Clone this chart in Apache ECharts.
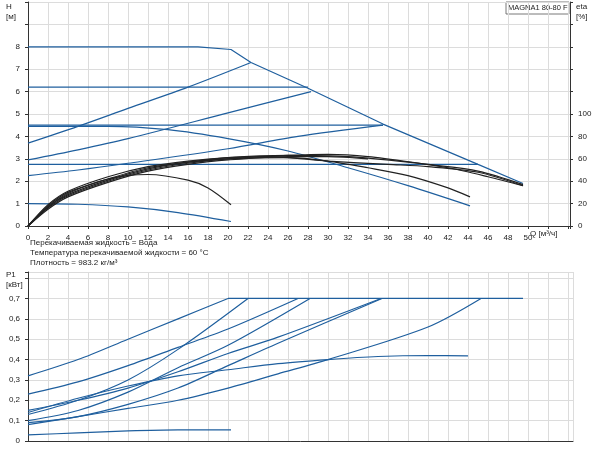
<!DOCTYPE html>
<html><head><meta charset="utf-8">
<script src="https://cdn.jsdelivr.net/npm/echarts@6/dist/echarts.min.js"></script>
<style>html,body{margin:0;padding:0;background:#fff}#c{width:600px;height:450px}</style>
</head><body><div id="c"></div>
<script>
// H curves (Q, H m)
const hMax = [[0,8.0],[10,8.0],[17,8.0],[20.3,7.88],[22.3,7.3],[28,6.15],[35.5,4.55],[45,2.75],[49.5,1.9]];
const hPP1 = [[0,3.7],[5,4.45],[10,5.25],[16,6.2],[22.3,7.3]];
const hPP2 = [[0,2.95],[5,3.4],[10,3.9],[20,5.05],[28.3,6.0]];
const hPP3 = [[0,2.25],[5,2.5],[10,2.8],[20,3.45],[27,4.0],[35.5,4.5]];
const hCP1 = [[0,6.2],[28,6.2]];
const hCP2 = [[0,4.5],[35.5,4.5]];
const hCP3 = [[0,2.75],[45,2.75]];
const hMid = [[0,4.45],[8,4.45],[14,4.3],[20,3.9],[26,3.35],[32,2.6],[38,1.8],[44.2,0.9]];
const hMin = [[0,1.0],[5,0.97],[10,0.85],[15,0.6],[20.3,0.2]];
// eta curves (Q, %)
const eta1 = [[0,0],[2,17],[4,29],[8,42],[12,46],[16,41],[18,34],[20.3,19]];
const eta2 = [[0,0],[2,18],[4,30],[8,42],[12,52],[16,57],[20,60],[26,61],[30,58],[34,52],[38,45],[42,34],[44.2,26]];
const eta3 = [[0,0],[2,17],[4,28],[8,41],[12,51],[16,57],[20,61],[26,63],[32,62],[38,57],[42,52],[46,44],[49.5,36]];
const eta4 = [[0,0],[2,16],[4,27],[8,40],[12,50],[16,56],[20,60],[26,63],[30,64],[34,62],[40,55],[45,49],[49.5,37]];
const eta5 = [[0,0],[2,19],[4,31],[8,44],[12,53],[16,58],[20,61],[24,62],[30,58],[36,55],[40,53],[45,48],[49.5,36]];
const eta6 = [[0,0],[2,15],[4,26],[8,39],[12,49],[16,55],[20,59],[26,62],[30,62],[34,60]];
// P1 curves (Q, kW)
const p1 = [[0,0.32],[5,0.4],[10,0.5],[15,0.6],[20,0.7]];
const p2 = [[0,0.13],[5,0.2],[10,0.3],[15,0.45],[22,0.7]];
const p3 = [[0,0.23],[5,0.29],[10,0.37],[15,0.46],[20,0.55],[27,0.7]];
const p4 = [[0,0.1],[5,0.15],[10,0.24],[15,0.36],[20,0.47],[28.2,0.7]];
const p5 = [[0,0.15],[5,0.2],[10,0.26],[15,0.34],[20,0.43],[25,0.51],[35.3,0.7]];
const p6 = [[0,0.09],[5,0.12],[10,0.18],[15,0.26],[20,0.37],[25,0.48],[35.4,0.7]];
const p7 = [[0,0.08],[5,0.12],[10,0.16],[15,0.2],[20,0.26],[25,0.33],[30,0.4],[40,0.56],[45.3,0.7]];
const p8 = [[0,0.14],[5,0.21],[10,0.27],[15,0.32],[20,0.35],[25,0.38],[30,0.4],[35,0.415],[40,0.42],[44,0.418]];
const p9 = [[0,0.03],[5,0.04],[10,0.05],[15,0.055],[20.3,0.055]];
const pMax = [[20,0.7],[49.5,0.7]];

const BLUE='#1f5f9e', BLACK='#222';
const ch = echarts.init(document.getElementById('c'));
const ax = {axisLine:{show:true,lineStyle:{color:'#333'}},axisTick:{show:true,length:3,lineStyle:{color:'#333'}},
  splitLine:{show:true,lineStyle:{color:'#dcdcdc'}},axisLabel:{fontSize:8,color:'#222',fontFamily:'Liberation Sans'}};
function ln(d,c,xi,yi,smooth){return {type:'line',data:d,xAxisIndex:xi,yAxisIndex:yi,showSymbol:false,smooth:smooth===undefined?0.3:smooth,
  lineStyle:{color:c,width:1.2},itemStyle:{color:c},z:c===BLACK?3:2};}
const series=[];
[hPP1,hPP2,hPP3,hCP1,hCP2,hCP3,hMid,hMin].forEach(d=>series.push(ln(d,BLUE,0,0)));
series.push(ln(hMax,BLUE,0,0,false));
[eta1,eta2,eta3,eta4,eta5,eta6].forEach(d=>series.push(ln(d,BLACK,0,1)));
[p1,p2,p3,p4,p5,p6,p7,p8,p9].forEach(d=>series.push(ln(d,BLUE,1,2)));
series.push(ln(pMax,BLUE,1,2,false));
const tx={fontSize:8,fill:'#222',fontFamily:'Liberation Sans'};
ch.setOption({
  animation:false,
  grid:[{left:28,right:30,top:2,bottom:224},{left:28,right:27,top:272,bottom:9}],
  xAxis:[
    Object.assign({},ax,{type:'value',gridIndex:0,min:0,max:54.2,interval:2,
      axisLabel:Object.assign({},ax.axisLabel,{formatter:v=>v<=50?v:''})}),
    Object.assign({},ax,{type:'value',gridIndex:1,min:0,max:54.5,interval:2,axisLabel:{show:false},axisTick:{show:false}})
  ],
  yAxis:[
    Object.assign({},ax,{type:'value',gridIndex:0,min:0,max:10,interval:1,
      axisLabel:Object.assign({},ax.axisLabel,{formatter:v=>v<=8?v:''})}),
    Object.assign({},ax,{type:'value',gridIndex:0,position:'right',min:0,max:200,interval:20,splitLine:{show:false},
      axisLabel:Object.assign({},ax.axisLabel,{formatter:v=>v<=100?v:''})}),
    Object.assign({},ax,{type:'value',gridIndex:1,min:0,max:0.83,interval:0.1,
      axisLabel:Object.assign({},ax.axisLabel,{formatter:v=>v<=0.75?(v===0?'0':v.toFixed(1).replace('.',',')):''})})
  ],
  graphic:[
    {type:'text',left:6,top:2,style:Object.assign({},tx,{text:'H\n[м]',lineHeight:10})},
    {type:'text',left:576,top:2,style:Object.assign({},tx,{text:'eta\n[%]',lineHeight:10})},
    {type:'rect',shape:{x:506,y:2,width:63,height:12},style:{fill:'#fff',stroke:'#555',lineWidth:0.8}},
    {type:'text',x:508,y:4,style:Object.assign({},tx,{text:'MAGNA1 80-80 F',fontSize:7.5})},
    {type:'text',x:530,y:230,style:Object.assign({},tx,{text:'Q [м³/ч]'})},
    {type:'text',x:30,y:239,style:Object.assign({},tx,{text:'Перекачиваемая жидкость = Вода'})},
    {type:'text',x:30,y:249,style:Object.assign({},tx,{text:'Температура перекачиваемой жидкости = 60 °C'})},
    {type:'text',x:30,y:259,style:Object.assign({},tx,{text:'Плотность = 983.2 кг/м³'})},
    {type:'text',x:6,y:270,style:Object.assign({},tx,{text:'P1\n[кВт]',lineHeight:10})}
  ],
  series
});
</script></body></html>
